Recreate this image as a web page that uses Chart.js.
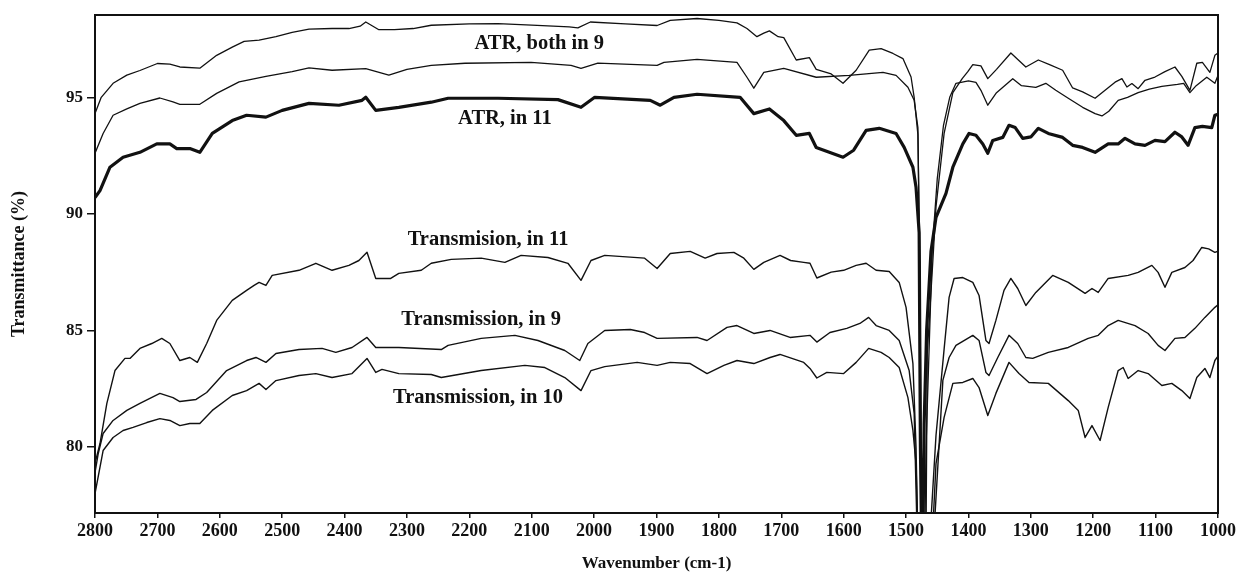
<!DOCTYPE html>
<html lang="en">
<head>
    <meta charset="UTF-8">
    <title>Transmittance spectra</title>
    <style>
        body { margin: 0; background: #fff; }
        canvas { display: block; }
    </style>
</head>
<body>
    <canvas id="spectraChart" width="1239" height="572"></canvas>

    <script src="https://cdn.jsdelivr.net/npm/chart.js"></script>
    <script>
        // [wavenumber, transmittance] pairs
        const atrBoth9Upper = [[2800,94.3],[2790,95.0],[2771,95.6],[2749,95.95],[2728,96.15],[2700,96.45],[2680,96.42],[2664,96.3],[2632,96.25],[2605,96.8],[2580,97.15],[2561,97.4],[2537,97.45],[2510,97.6],[2484,97.78],[2457,97.92],[2420,97.95],[2393,97.95],[2375,98.05],[2366,98.23],[2345,97.9],[2320,97.9],[2290,97.95],[2261,98.09],[2200,98.15],[2154,98.16],[2100,98.1],[2040,98.02],[2026,97.98],[2006,98.23],[1950,98.15],[1899,98.08],[1878,98.3],[1835,98.38],[1800,98.3],[1771,98.19],[1755,97.95],[1739,97.6],[1728,97.75],[1719,97.85],[1705,97.6],[1696,97.56],[1676,96.6],[1655,96.7],[1644,96.2],[1620,96.0],[1601,95.6],[1580,96.16],[1559,97.02],[1540,97.09],[1521,96.88],[1505,96.66],[1492,95.87],[1487,95.0],[1481,93.4],[1478,88],[1475,76],[1468,76],[1466,84],[1457,88],[1452,90.3],[1439,93.45],[1425,95.2],[1410,95.8],[1401,96.1],[1393,96.4],[1380,96.35],[1369,95.8],[1355,96.2],[1332,96.9],[1320,96.6],[1308,96.3],[1288,96.6],[1270,96.4],[1249,96.16],[1233,95.4],[1217,95.23],[1197,94.96],[1181,95.3],[1165,95.65],[1154,95.8],[1146,95.44],[1138,95.59],[1128,95.37],[1117,95.73],[1101,95.87],[1085,96.1],[1069,96.3],[1058,95.9],[1045,95.3],[1034,96.46],[1025,96.5],[1013,96.07],[1005,96.8],[1000,96.9]];

        const atrBoth9Lower = [[2800,92.6],[2787,93.45],[2771,94.23],[2749,94.5],[2728,94.74],[2696,94.97],[2675,94.8],[2664,94.7],[2632,94.7],[2605,95.17],[2569,95.66],[2526,95.9],[2484,96.1],[2457,96.26],[2420,96.16],[2366,96.23],[2329,95.95],[2300,96.2],[2261,96.37],[2207,96.46],[2101,96.5],[2037,96.37],[2021,96.24],[1994,96.47],[1899,96.37],[1888,96.5],[1835,96.63],[1771,96.5],[1755,95.86],[1744,95.39],[1728,96.07],[1696,96.24],[1644,95.86],[1591,95.94],[1537,96.07],[1516,95.94],[1497,95.43],[1487,94.87],[1481,93.7],[1478,87],[1476,76],[1470,76],[1468,80],[1458,88.5],[1450,91.5],[1440,93.8],[1430,95.0],[1420,95.6],[1400,95.7],[1388,95.64],[1380,95.3],[1369,94.66],[1355,95.2],[1329,95.8],[1315,95.5],[1292,95.43],[1276,95.6],[1260,95.3],[1240,94.96],[1217,94.57],[1197,94.3],[1186,94.2],[1175,94.4],[1160,94.87],[1145,95.0],[1128,95.2],[1110,95.35],[1090,95.47],[1065,95.55],[1055,95.6],[1045,95.2],[1035,95.5],[1018,95.86],[1005,95.6],[1000,95.94]];

        const atrIn11 = [[2800,90.7],[2792,91.0],[2776,92.0],[2755,92.43],[2728,92.64],[2701,93.0],[2680,93.0],[2669,92.8],[2648,92.8],[2632,92.64],[2612,93.45],[2580,94.0],[2557,94.23],[2526,94.15],[2500,94.44],[2457,94.74],[2409,94.66],[2372,94.87],[2366,95.0],[2350,94.44],[2313,94.57],[2261,94.79],[2234,94.96],[2154,94.96],[2058,94.9],[2021,94.57],[1999,95.0],[1910,94.87],[1894,94.66],[1872,95.0],[1835,95.13],[1766,95.0],[1744,94.3],[1719,94.5],[1696,94.0],[1676,93.37],[1655,93.45],[1644,92.85],[1601,92.43],[1584,92.73],[1564,93.58],[1543,93.67],[1516,93.45],[1503,92.85],[1489,92.0],[1484,91.14],[1479,89.2],[1477,80],[1475,76],[1473,76],[1471,81],[1467,85],[1460,88.4],[1452,89.85],[1436,90.88],[1425,92.0],[1409,93.0],[1399,93.45],[1388,93.37],[1377,93.0],[1369,92.6],[1361,93.15],[1345,93.28],[1335,93.8],[1325,93.7],[1313,93.24],[1300,93.3],[1288,93.67],[1272,93.45],[1249,93.28],[1233,92.94],[1217,92.85],[1197,92.64],[1176,93.0],[1160,93.0],[1149,93.24],[1133,93.0],[1117,92.94],[1101,93.15],[1085,93.1],[1069,93.5],[1058,93.3],[1048,92.94],[1037,93.7],[1025,93.75],[1010,93.7],[1005,94.23],[1000,94.27]];

        const transIn11 = [[2800,79.3],[2792,80.15],[2781,81.87],[2768,83.28],[2752,83.8],[2744,83.8],[2728,84.23],[2709,84.44],[2693,84.66],[2680,84.44],[2664,83.71],[2648,83.84],[2636,83.63],[2621,84.44],[2605,85.43],[2580,86.29],[2557,86.72],[2545,86.93],[2537,87.06],[2526,86.93],[2516,87.36],[2473,87.58],[2446,87.88],[2420,87.58],[2393,87.79],[2377,88.0],[2364,88.35],[2350,87.23],[2326,87.23],[2313,87.45],[2277,87.58],[2261,87.88],[2229,88.05],[2181,88.1],[2143,87.92],[2117,88.22],[2074,88.13],[2042,87.88],[2021,87.15],[2005,88.0],[1983,88.22],[1919,88.1],[1899,87.66],[1878,88.3],[1846,88.39],[1822,88.1],[1803,88.3],[1776,88.35],[1760,88.1],[1744,87.62],[1728,87.92],[1702,88.22],[1685,88.0],[1664,87.92],[1654,87.88],[1643,87.25],[1620,87.5],[1600,87.58],[1580,87.79],[1564,87.88],[1548,87.58],[1527,87.53],[1511,87.06],[1500,85.99],[1489,83.58],[1484,79.98],[1481,76],[1462,76],[1452,80.5],[1439,84.2],[1431,86.42],[1423,87.23],[1409,87.27],[1393,87.06],[1383,86.5],[1372,84.57],[1367,84.44],[1356,85.43],[1343,86.72],[1332,87.23],[1321,86.8],[1308,86.07],[1292,86.63],[1265,87.36],[1240,87.06],[1213,86.59],[1202,86.8],[1192,86.63],[1176,87.23],[1144,87.36],[1128,87.49],[1106,87.79],[1096,87.49],[1085,86.85],[1074,87.49],[1053,87.7],[1040,88.0],[1026,88.56],[1015,88.5],[1005,88.35],[1000,88.4]];

        const transIn9 = [[2800,78.9],[2795,79.7],[2787,80.58],[2771,81.14],[2749,81.57],[2728,81.87],[2696,82.3],[2675,82.12],[2664,81.95],[2638,82.04],[2621,82.34],[2589,83.28],[2557,83.71],[2542,83.84],[2526,83.63],[2510,84.01],[2473,84.18],[2436,84.23],[2414,84.06],[2388,84.27],[2364,84.7],[2350,84.27],[2313,84.27],[2245,84.18],[2234,84.36],[2181,84.66],[2127,84.79],[2090,84.57],[2047,84.14],[2023,83.71],[2010,84.44],[1983,85.0],[1942,85.04],[1919,84.91],[1899,84.66],[1835,84.7],[1819,84.57],[1787,85.13],[1771,85.21],[1744,84.87],[1718,85.0],[1686,84.7],[1654,84.79],[1643,84.5],[1622,84.91],[1595,85.09],[1574,85.3],[1560,85.56],[1548,85.21],[1527,85.0],[1511,84.57],[1495,83.28],[1487,81.44],[1482,76],[1456,76],[1441,82.86],[1431,83.84],[1420,84.36],[1393,84.79],[1383,84.57],[1372,83.2],[1367,83.07],[1353,83.84],[1335,84.79],[1321,84.44],[1308,83.84],[1297,83.8],[1272,84.06],[1240,84.27],[1208,84.66],[1192,84.79],[1176,85.21],[1160,85.43],[1133,85.21],[1112,84.87],[1096,84.36],[1085,84.14],[1069,84.66],[1053,84.7],[1037,85.09],[1021,85.56],[1005,85.99],[1000,86.1]];

        const transIn10 = [[2800,78.0],[2787,79.85],[2771,80.41],[2755,80.71],[2739,80.84],[2717,81.05],[2696,81.22],[2680,81.14],[2664,80.92],[2648,81.01],[2632,81.01],[2612,81.57],[2580,82.21],[2557,82.42],[2537,82.73],[2526,82.47],[2510,82.85],[2473,83.07],[2446,83.15],[2420,82.98],[2388,83.15],[2364,83.8],[2350,83.2],[2340,83.33],[2313,83.15],[2261,83.11],[2245,82.98],[2181,83.28],[2111,83.5],[2079,83.41],[2047,82.98],[2021,82.42],[2005,83.28],[1983,83.45],[1931,83.63],[1899,83.5],[1878,83.63],[1846,83.58],[1819,83.15],[1792,83.5],[1771,83.71],[1744,83.58],[1718,83.84],[1702,83.97],[1664,83.63],[1654,83.37],[1643,82.96],[1627,83.2],[1600,83.15],[1580,83.63],[1560,84.23],[1540,84.06],[1527,83.84],[1511,83.41],[1497,82.12],[1489,80.71],[1484,79.29],[1481,76],[1458,76],[1452,79.29],[1439,81.27],[1425,82.73],[1409,82.77],[1393,82.94],[1383,82.55],[1369,81.35],[1356,82.3],[1335,83.63],[1319,83.15],[1303,82.77],[1272,82.73],[1240,81.99],[1224,81.57],[1213,80.41],[1202,80.92],[1189,80.28],[1176,81.7],[1160,83.28],[1152,83.41],[1144,82.94],[1128,83.28],[1112,83.15],[1090,82.64],[1074,82.73],[1058,82.42],[1045,82.08],[1034,82.98],[1021,83.37],[1013,82.98],[1005,83.71],[1000,83.9]];

        const xTicks = [2800, 2700, 2600, 2500, 2400, 2300, 2200, 2100, 2000, 1900, 1800, 1700, 1600, 1500, 1400, 1300, 1200, 1100, 1000];
        const yTicks = [80, 85, 90, 95];

        // curve labels, placed in data coordinates
        const labelTexts = ['ATR, both in 9', 'ATR, in 11', 'Transmision, in 11', 'Transmission, in 9', 'Transmission, in 10'];
        const labelWn = [2088, 2143, 2170, 2181, 2186];
        const labelT = [97.32, 94.1, 88.9, 85.47, 82.12];

        const serif = "'Liberation Serif', 'Times New Roman', serif";

        function series(pairs, width) {
            return {
                data: pairs.map(p => ({ x: p[0], y: p[1] })),
                borderColor: '#111',
                borderWidth: width,
                pointRadius: 0,
                tension: 0,
                borderJoinStyle: 'round',
                fill: false
            };
        }

        // draws the box round the plot and the curve labels
        const framePlugin = {
            id: 'frameAndLabels',
            afterDatasetsDraw(chart) {
                const ctx = chart.ctx;
                const a = chart.chartArea;
                const xs = chart.scales.x, ys = chart.scales.y;
                ctx.save();
                ctx.strokeStyle = '#111';
                ctx.lineWidth = 2;
                ctx.strokeRect(a.left, a.top, a.right - a.left, a.bottom - a.top);
                ctx.fillStyle = '#111';
                ctx.font = 'bold 20.5px ' + serif;
                ctx.textAlign = 'center';
                ctx.textBaseline = 'middle';
                labelTexts.forEach((t, i) => {
                    ctx.fillText(t, xs.getPixelForValue(labelWn[i]), ys.getPixelForValue(labelT[i]));
                });
                ctx.restore();
            }
        };

        const ctx = document.getElementById('spectraChart').getContext('2d');
        new Chart(ctx, {
            type: 'line',
            data: {
                datasets: [
                    series(atrBoth9Upper, 1.3),
                    series(atrBoth9Lower, 1.3),
                    series(atrIn11, 3.2),
                    series(transIn11, 1.4),
                    series(transIn9, 1.4),
                    series(transIn10, 1.4)
                ]
            },
            options: {
                responsive: false,
                animation: false,
                layout: { padding: { top: 15, right: 16, left: 0, bottom: 0 } },
                plugins: {
                    legend: { display: false },
                    tooltip: { enabled: false }
                },
                scales: {
                    x: {
                        type: 'linear',
                        reverse: true,
                        min: 1000,
                        max: 2800,
                        afterBuildTicks: s => { s.ticks = xTicks.map(v => ({ value: v })); },
                        afterFit: s => { s.height = 59; },
                        border: { display: false },
                        grid: { drawOnChartArea: false, drawTicks: true, tickLength: 5, color: '#111', lineWidth: 1.5 },
                        ticks: {
                            color: '#111',
                            padding: 3,
                            maxRotation: 0,
                            autoSkip: false,
                            font: { family: serif, size: 18, weight: 'bold' },
                            callback: v => String(v)
                        },
                        title: {
                            display: true,
                            text: 'Wavenumber (cm-1)',
                            color: '#111',
                            padding: 0,
                            font: { family: serif, size: 17, weight: 'bold', lineHeight: 1 }
                        }
                    },
                    y: {
                        min: 77.17,
                        max: 98.53,
                        afterBuildTicks: s => { s.ticks = yTicks.map(v => ({ value: v })); },
                        afterFit: s => { s.width = 95; },
                        border: { display: false },
                        grid: { drawOnChartArea: false, drawTicks: true, tickLength: 8, color: '#111', lineWidth: 1.5 },
                        ticks: {
                            color: '#111',
                            padding: 4,
                            font: { family: serif, size: 17, weight: 'bold' },
                            callback: v => String(v)
                        },
                        title: {
                            display: true,
                            text: 'Transmittance (%)',
                            color: '#111',
                            padding: { top: 10, bottom: 0 },
                            font: { family: serif, size: 18, weight: 'bold', lineHeight: 1 }
                        }
                    }
                }
            },
            plugins: [framePlugin]
        });
    </script>
</body>
</html>
